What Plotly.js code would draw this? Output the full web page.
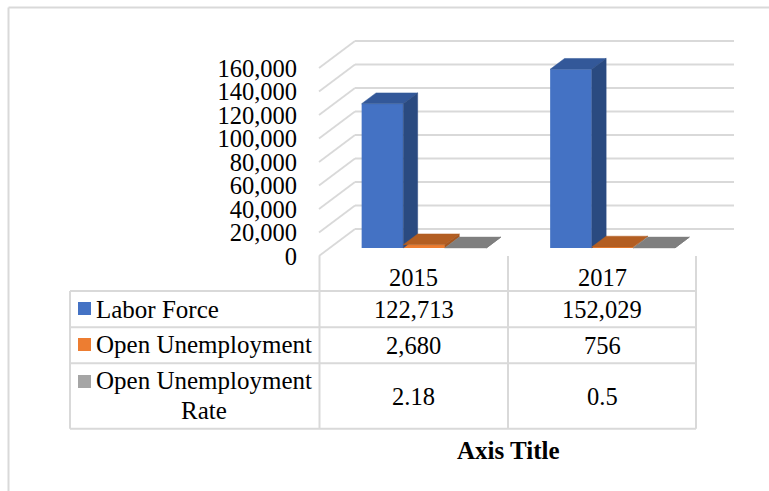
<!DOCTYPE html>
<html>
<head>
<meta charset="utf-8">
<script src="https://cdn.plot.ly/plotly-3.0.1.min.js"></script>
<style>html,body{margin:0;padding:0;background:#fff}</style>
</head>
<body>
<div id="chart" style="width:769px;height:491px"></div>
<script>
// Chart data
const years = ["2015", "2017"];
const seriesNames = ["Labor Force", "Open Unemployment", "Open Unemployment Rate"];
const laborForce = [122713, 152029];
const openUnemployment = [2680, 756];
const openUnemploymentRate = [2.18, 0.5];
const laborForceLabels = ["122,713", "152,029"];
const openUnemploymentLabels = ["2,680", "756"];
const rateLabels = ["2.18", "0.5"];
const axisTicks = [0, 20000, 40000, 60000, 80000, 100000, 120000, 140000, 160000];

// Colours for each series: front, top and side faces
const frontColors = ["#4472C4", "#ED7D31", "#A5A5A5"];
const topColors = ["#335899", "#B35E22", "#7F7F7F"];
const sideColors = ["#2A4A80", "#A5561F", "#757575"];
const ruleColor = "#D9D9D9";
const serif = "'Liberation Serif','Times New Roman',serif";
const textSize = 24.5;
const nameSize = 25;

// Page and plot geometry
const W = 769, H = 491;
const margin = {l: 309, r: 29, t: 33, b: 235, pad: 0};
const catPx = 188.5, valPx = 23.5 / 20000, originX = 319, originY = 256;
const xRange = [(margin.l - originX) / catPx, (W - margin.r - originX) / catPx];
const yRange = [0, (originY - margin.t) / valPx];

// Oblique depth of the floor, expressed in axis units
const depthX = 36 / catPx, depthY = 27 / valPx;
const barWidth = 0.2207, barGap = (1 - 3 * barWidth) / 2;
const barFront = 0.3, barBack = 0.7;

const px = x => (x - margin.l) / (W - margin.l - margin.r);
const py = y => 1 - (y - margin.t) / (H - margin.t - margin.b);
const rule = (x0, y0, x1, y1, color, width) => ({
  type: "line", xref: "paper", yref: "paper",
  x0: px(x0), y0: py(y0), x1: px(x1), y1: py(y1),
  line: {color: color || ruleColor, width: width || 2}
});

// Back wall and side wall gridlines
const shapes = [];
const wallRight = (734 - originX) / catPx;
axisTicks.forEach(t => {
  const line = (x0, y0, x1, y1) => shapes.push({
    type: "line", xref: "x", yref: "y", layer: "below",
    x0, y0, x1, y1, line: {color: ruleColor, width: 1.8}
  });
  line(0, t, depthX, t + depthY);
  line(depthX, t + depthY, wallRight, t + depthY);
});

// Data table rules
const tableCols = [70, 319.5, 508, 696];
const tableRows = [291, 327.3, 363.3, 428.7];
tableCols.slice(1).forEach(x => shapes.push(rule(x, 256, x, tableRows[3])));
shapes.push(rule(tableCols[0], tableRows[0], tableCols[0], tableRows[3]));
tableRows.forEach(y => shapes.push(rule(tableCols[0], y, tableCols[3], y)));

// Outer frame, open on the right and at the bottom
shapes.push(rule(8.5, 7.5, W, 7.5));
shapes.push(rule(8.5, 7.5, 8.5, H));

// Legend keys in the table
[302, 338, 375].forEach((y, i) => shapes.push({
  type: "rect", xref: "paper", yref: "paper",
  x0: px(78), x1: px(91), y0: py(y), y1: py(y + 13),
  fillcolor: frontColors[i], line: {width: 0}
}));

// Table text
const label = (text, x, y, size) => ({
  text, xref: "paper", yref: "paper", x: px(x), y: py(y),
  xanchor: "center", yanchor: "middle", showarrow: false,
  font: {family: serif, size: size || textSize, color: "#000"}
});
const colCenters = [413.5, 602];
const annotations = [];
years.forEach((y, i) => annotations.push(label(y, colCenters[i], 277)));
laborForceLabels.forEach((t, i) => annotations.push(label(t, colCenters[i], 309)));
openUnemploymentLabels.forEach((t, i) => annotations.push(label(t, colCenters[i], 345)));
rateLabels.forEach((t, i) => annotations.push(label(t, colCenters[i], 396)));
annotations.push(label(seriesNames[0], 157, 309, nameSize));
annotations.push(label(seriesNames[1], 204, 344.5, nameSize));
annotations.push(label("Open Unemployment", 204, 380.5, nameSize));
annotations.push(label("Rate", 204, 410, nameSize));
annotations.push(label("<b>Axis Title</b>", 508, 450, nameSize));

// Columns: front faces as bars, top and side faces as filled polygons
const seriesValues = [laborForce, openUnemployment, openUnemploymentRate];
const traces = [];
seriesValues.forEach((values, s) => {
  const left = years.map((_, c) => c + barGap + s * barWidth + barFront * depthX);
  const base = barFront * depthY;
  traces.push({
    type: "bar", name: seriesNames[s],
    x: left.map(v => v + barWidth / 2),
    y: values, base: base, width: barWidth,
    marker: {color: frontColors[s], line: {width: 0}},
    hoverinfo: "skip", showlegend: false
  });
});
const dX = (barBack - barFront) * depthX, dY = (barBack - barFront) * depthY;
years.forEach((_, c) => {
  seriesValues.forEach((values, s) => {
    const x0 = c + barGap + s * barWidth + barFront * depthX, x1 = x0 + barWidth;
    const y0 = barFront * depthY, y1 = y0 + values[c];
    const face = (xs, ys, color) => traces.push({
      type: "scatter", mode: "lines", x: xs, y: ys, fill: "toself",
      fillcolor: color, line: {color: color, width: 0.5},
      hoverinfo: "skip", showlegend: false
    });
    face([x0, x1, x1 + dX, x0 + dX, x0], [y1, y1, y1 + dY, y1 + dY, y1], topColors[s]);
    face([x1, x1 + dX, x1 + dX, x1, x1], [y0, y0 + dY, y1 + dY, y1, y0], sideColors[s]);
  });
});

const layout = {
  width: W, height: H, margin: margin,
  paper_bgcolor: "#fff", plot_bgcolor: "rgba(0,0,0,0)",
  barmode: "overlay", showlegend: false,
  xaxis: {range: xRange, showgrid: false, zeroline: false, showline: false,
          showticklabels: false, ticks: "", fixedrange: true},
  yaxis: {range: yRange, tickvals: axisTicks, tickformat: ",d", showgrid: false,
          zeroline: false, showline: false, ticks: "outside", ticklen: 6,
          tickcolor: "rgba(0,0,0,0)", tickfont: {family: serif, size: textSize, color: "#000"},
          automargin: false, fixedrange: true},
  shapes, annotations
};
Plotly.newPlot("chart", traces, layout, {displayModeBar: false, staticPlot: true});
</script>
</body>
</html>
